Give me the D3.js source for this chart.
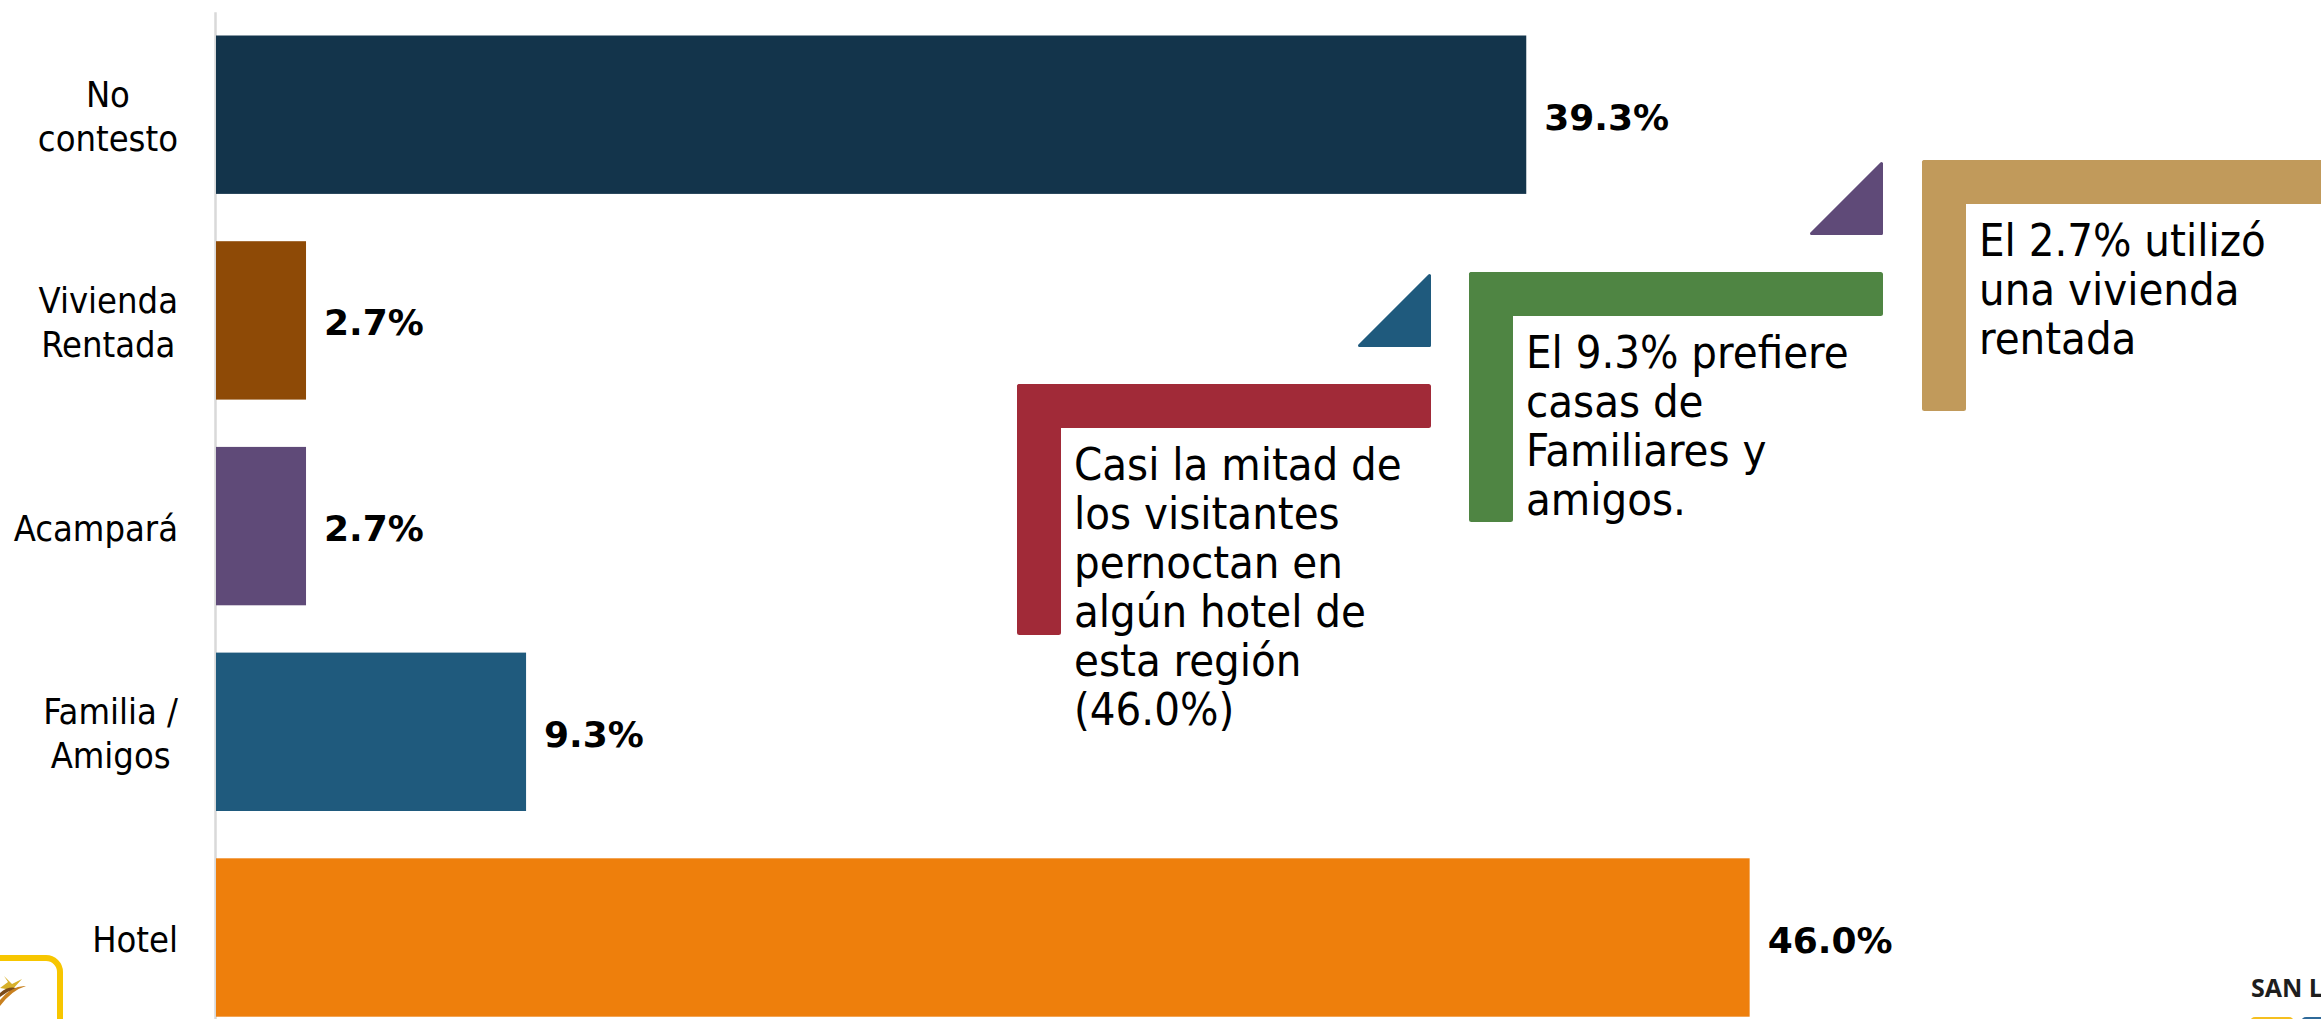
<!DOCTYPE html>
<html>
<head>
<meta charset="utf-8">
<script src="https://cdn.jsdelivr.net/npm/d3@7"></script>
<style>
  html, body { margin: 0; padding: 0; background: #fff; overflow: hidden; }
  svg { display: block; }
</style>
</head>
<body>
<svg id="chart" width="2321" height="1019"></svg>
<script>
// data
const categories = ["No contesto", "Vivienda Rentada", "Acampará", "Familia / Amigos", "Hotel"];
const labelLines = [["No", "contesto"], ["Vivienda", "Rentada"], ["Acampará"], ["Familia /", "Amigos"], ["Hotel"]];
const values = [39.3, 2.7, 2.7, 9.3, 46.0];
const barColors = ["#13344b", "#8e4a06", "#5f4a78", "#1f5a7d", "#ee7f0c"];

const noteTexts = [
    ["Casi la mitad de", "los visitantes", "pernoctan en", "algún hotel de", "esta región", "(46.0%)"],
    ["El 9.3% prefiere", "casas de", "Familiares y", "amigos."],
    ["El 2.7% utilizó", "una vivienda", "rentada"]
];
const noteColors = ["#a12a38", "#4f8543", "#c19a5b"];
const noteTriangleColors = ["#1f5a7d", "#5f4a78", null];

const svg = d3.select("#chart");

const condensed = "'DejaVu Sans Condensed', 'DejaVu Sans', Verdana, sans-serif";

// scales
const x = d3.scaleLinear().domain([0, 50]).range([216, 216 + 1667]);
const y = d3.scaleBand()
    .domain(categories)
    .range([11.85, 1040.35])
    .paddingInner(0.23)
    .paddingOuter(0.115);

// axis (only the vertical line)
const axis = svg.append("g")
    .attr("transform", `translate(${x(0) - 1},0)`)
    .call(d3.axisLeft(y).tickSize(0).tickFormat(""));
axis.select(".domain").attr("stroke", "#d9d9d9").attr("stroke-width", 2.5);

// bars
svg.append("g").selectAll("rect")
    .data(values)
    .enter().append("rect")
    .attr("x", x(0))
    .attr("y", (d, i) => y(categories[i]))
    .attr("width", d => x(d) - x(0))
    .attr("height", y.bandwidth())
    .attr("fill", (d, i) => barColors[i]);

// value labels
svg.append("g").selectAll("text")
    .data(values)
    .enter().append("text")
    .attr("x", d => x(d) + 18)
    .attr("y", (d, i) => y(categories[i]) + y.bandwidth() / 2 + 15)
    .attr("font-family", "'DejaVu Sans', Verdana, sans-serif")
    .attr("font-weight", "bold")
    .attr("font-size", 36)
    .attr("fill", "#000")
    .text(d => d.toFixed(1) + "%");

// category labels: each block right-aligned, lines centred within block
const labelRight = 178;
const lineGap = 44;
categories.forEach((c, i) => {
    const lines = labelLines[i];
    const g = svg.append("g");
    const cy = y(c) + y.bandwidth() / 2 + 14.5;
    const texts = lines.map((ln, j) => g.append("text")
        .attr("y", cy + (j - (lines.length - 1) / 2) * lineGap)
        .attr("font-family", condensed)
        .attr("font-size", 36)
        .attr("text-anchor", "middle")
        .attr("fill", "#000")
        .text(ln));
    const maxW = d3.max(texts, t => t.node().getComputedTextLength());
    texts.forEach(t => t.attr("x", labelRight - maxW / 2));
});

// callouts
const noteLayout = [
    { x0: 1017, top: 384, right: 1431, bottom: 635 },
    { x0: 1469, top: 272, right: 1883, bottom: 522 },
    { x0: 1922, top: 160, right: 2340, bottom: 411 }
];
const thick = 44;
noteTexts.forEach((lines, i) => {
    const L = noteLayout[i];
    const g = svg.append("g");
    g.append("rect")
        .attr("x", L.x0).attr("y", L.top)
        .attr("width", L.right - L.x0).attr("height", thick)
        .attr("rx", 2.5)
        .attr("fill", noteColors[i]);
    g.append("rect")
        .attr("x", L.x0).attr("y", L.top)
        .attr("width", thick).attr("height", L.bottom - L.top)
        .attr("rx", 2.5)
        .attr("fill", noteColors[i]);
    g.selectAll("text.note")
        .data(lines)
        .enter().append("text")
        .attr("class", "note")
        .attr("x", L.x0 + thick + 13)
        .attr("y", (d, j) => L.top + 96 + j * 49)
        .attr("font-family", condensed)
        .attr("font-size", 45)
        .attr("fill", "#000")
        .text(d => d);
    if (noteTriangleColors[i]) {
        const r = L.right, b = L.top - 37, t = b - 73, l = r - 73;
        g.append("path")
            .attr("d", `M${r - 1.5},${t + 1.5}L${r - 1.5},${b - 1.5}L${l + 1.5},${b - 1.5}Z`)
            .attr("fill", noteTriangleColors[i])
            .attr("stroke", noteTriangleColors[i])
            .attr("stroke-width", 3)
            .attr("stroke-linejoin", "round");
    }
});

// corner logos (partly cut off)
const logoL = svg.append("g");
logoL.append("rect")
    .attr("x", -40).attr("y", 958)
    .attr("width", 100).attr("height", 100)
    .attr("rx", 14)
    .attr("fill", "#fff")
    .attr("stroke", "#f7c600")
    .attr("stroke-width", 6);
logoL.append("path")
    .attr("d", "M0,1000 Q12,985 26,986 Q12,990 0,1006 Z")
    .attr("fill", "#c8801f");
logoL.append("path")
    .attr("d", "M0,988 L8,982 L4,976 L12,984 L22,979 L12,990 Z")
    .attr("fill", "#d7b02a");
logoL.append("path")
    .attr("d", "M0,993 Q8,986 16,988 Q8,991 0,997 Z")
    .attr("fill", "#7a4a1a");

const logoR = svg.append("g");
logoR.append("text")
    .attr("x", 2251).attr("y", 997)
    .attr("font-family", "'Open Sans', sans-serif")
    .attr("font-weight", "bold")
    .attr("font-size", 25)
    .attr("fill", "#1e1e1e")
    .text("SAN LUIS");
logoR.append("rect")
    .attr("x", 2250).attr("y", 1017).attr("width", 44).attr("height", 20)
    .attr("rx", 5).attr("fill", "#f5bf1f");
logoR.append("rect")
    .attr("x", 2301).attr("y", 1017).attr("width", 40).attr("height", 20)
    .attr("rx", 5).attr("fill", "#2f6a9a");
</script>
</body>
</html>
